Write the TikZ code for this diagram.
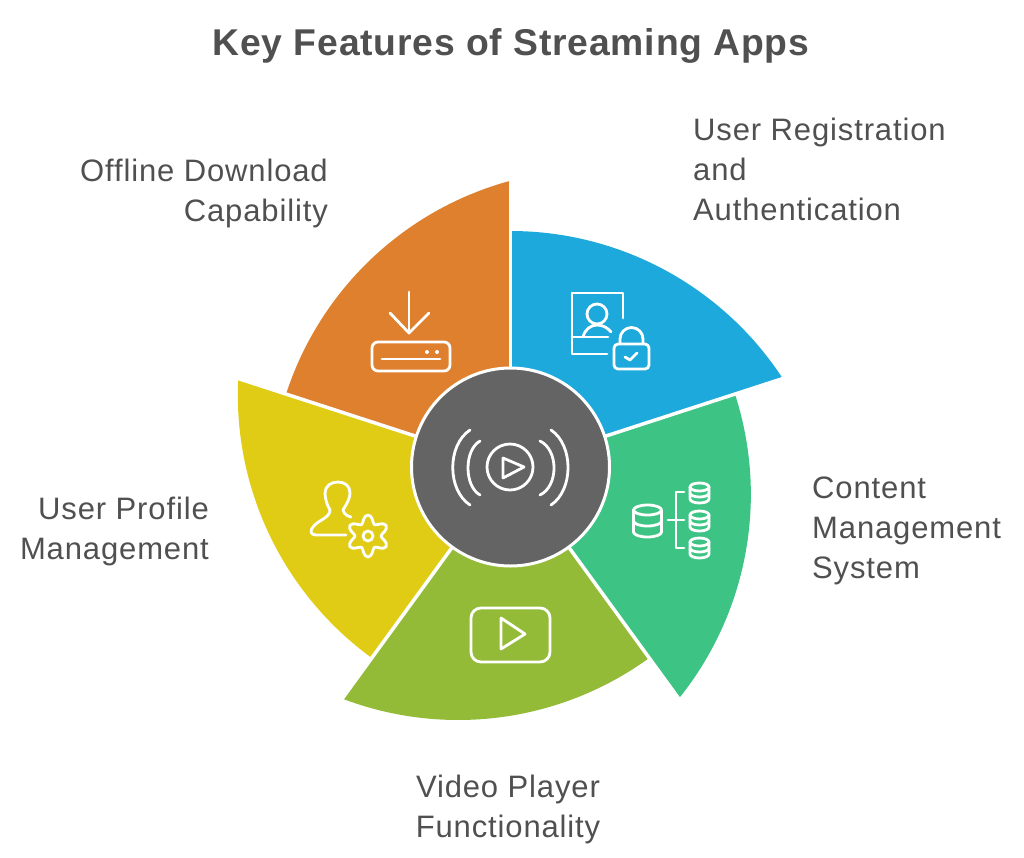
\documentclass[tikz,border=0pt]{standalone}
\usepackage{fontspec}
\setmainfont{Liberation Sans}
\newfontfamily\labelfont[LetterSpace=2.8]{Liberation Sans}
\newfontfamily\titlefont[LetterSpace=2.2]{Liberation Sans}
\usetikzlibrary{calc}
\definecolor{cblue}{HTML}{1DA9DC}
\definecolor{cgreen}{HTML}{3DC383}
\definecolor{clime}{HTML}{94BB37}
\definecolor{cyellow}{HTML}{E0CC14}
\definecolor{corange}{HTML}{DE802D}
\definecolor{chub}{HTML}{646464}
\definecolor{ctext}{HTML}{505050}
\tikzset{
  label text/.style={text=ctext,inner sep=0pt,font=\labelfont\fontsize{31}{40}\selectfont},
  icon/.style={draw=white,line width=2.8pt,line cap=round,line join=round},
  spoke/.style={draw=white,line width=3.5pt},
}
\newcommand{\sector}[2]{\fill[#1] (c) -- ($(c)+(#2:236)$) arc[start angle=#2,delta angle=56.8,radius=325] -- cycle;}
\newcommand{\cyl}[5]{% cx, top cy, rx, height, ry
  \draw[icon] (#1,#2) ellipse [x radius=#3,y radius=#5];
  \draw[icon] (#1-#3,#2) -- (#1-#3,#2+#4) arc[start angle=180,end angle=0,x radius=#3,y radius=#5] -- (#1+#3,#2);
  \draw[icon] (#1-#3,#2+#4/2) arc[start angle=180,end angle=0,x radius=#3,y radius=#5];
}
\begin{document}
\begin{tikzpicture}[x=1pt,y=-1pt]
\useasboundingbox (0,0) rectangle (1024,857);
\coordinate (c) at (510.5,467);
\sector{cblue}{-90}
\sector{cgreen}{-18}
\sector{clime}{54}
\sector{cyellow}{126}
\sector{corange}{198}
\foreach \a in {-90,-18,54,126,198} \draw[spoke] (c) -- ($(c)+(\a:292)$);
\node[circle,fill=chub,draw=white,line width=3pt,minimum size=198pt,inner sep=0pt] (hub) at (c) {};
% hub icon
\draw[icon] (510,467) circle (23);
\draw[icon] (503,458) -- (524,467) -- (503,478) -- cycle;
\draw[icon] (480,441) .. controls (464,450) and (464,486) .. (480,495);
\draw[icon] (470,430) .. controls (447,445) and (447,490) .. (470,505);
\draw[icon] (540,441) .. controls (558.7,450) and (558.7,486) .. (540,495);
\draw[icon] (551,430) .. controls (573.7,445) and (573.7,490) .. (551,505);
% blue icon
\draw[icon] (623,318) -- (623,293) -- (572,293) -- (572,354) -- (607,354);
\draw[icon] (572,337) -- (608,337);
\draw[icon] (597,314) circle (10);
\draw[icon] (583,337) .. controls (585,329) and (591,325) .. (597,325) .. controls (603,325) and (608,328) .. (611,332);
\draw[icon,rounded corners=4pt] (614,344) rectangle (649,369);
\draw[icon] (620,344) -- (620,339) arc[start angle=180,end angle=360,radius=11.5] -- (643,344);
\draw[icon] (625,357) -- (630,360) -- (637,353);
% green icon
\cyl{647.5}{510}{14}{22}{5}
\draw[icon] (668,520) -- (684,520);
\draw[icon] (684,492) -- (676,492) -- (676,548) -- (684,548);
\cyl{699.5}{487}{9.5}{12}{4}
\cyl{699.5}{515}{9.5}{12}{4}
\cyl{699.5}{542}{9.5}{12}{4}
% lime icon
\draw[icon,rounded corners=10pt] (471,608) rectangle (550,662);
\draw[icon] (501,618) -- (525,634) -- (501,649) -- cycle;
% yellow icon
\draw[icon] (346,535) -- (316,535) .. controls (310,535) and (310,530) .. (313,527) .. controls (318,520) and (330,518) .. (330,510) .. controls (326,503) and (325,497) .. (325,493) .. controls (325,486) and (331,482) .. (338,482) .. controls (345,482) and (350,486) .. (350,493) .. controls (350,499) and (346,505) .. (343,510) .. controls (344,514) and (347,516) .. (351,517);
\draw[icon] (368,536) circle (5);
\draw[icon] plot[smooth cycle,samples=48,domain=0:352.5] ({368+(17-4*cos(6*\x))*cos(\x)},{536+(17-4*cos(6*\x))*sin(\x)});
% orange icon
\draw[icon] (409,292) -- (409,333);
\draw[icon] (390,313) -- (409,333) -- (429,313);
\draw[icon,rounded corners=6pt] (372,342) rectangle (450,371);
\draw[icon] (382,359) -- (440,359);
\fill[white] (427,352) circle (2) (437,352) circle (2);
% texts
\node[text=ctext,inner sep=0pt,font=\titlefont\fontsize{37.3}{40}\selectfont\bfseries] (title) at (511,45.5) {Key Features of Streaming Apps};
\node[label text,align=left,anchor=west] (t1) at (693,169.5) {User Registration\\and\\Authentication};
\node[label text,align=left,anchor=west] (t2) at (812,531) {Content\\Management\\System};
\node[label text,align=center] (t3) at (508,809) {Video Player\\Functionality};
\node[label text,align=right,anchor=east] (t4) at (209,531) {User Profile\\Management};
\node[label text,align=right,anchor=east] (t5) at (328,193) {Offline Download\\Capability};
\end{tikzpicture}
\end{document}
